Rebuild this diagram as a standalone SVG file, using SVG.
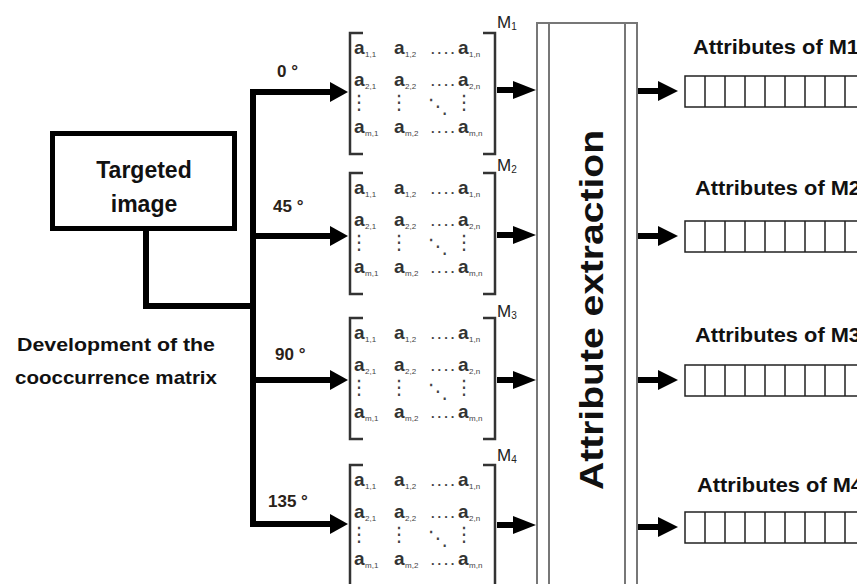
<svg xmlns="http://www.w3.org/2000/svg" xmlns:xlink="http://www.w3.org/1999/xlink" width="857" height="584" viewBox="0 0 857 584">
<style>
text{font-family:"Liberation Sans",Arial,sans-serif}
.lbl{font-weight:bold;fill:#111}
.ang{font-weight:bold;font-size:17px;fill:#2a2218}
.a{font-weight:bold;font-size:19px;fill:#333}
.s{font-size:8px;fill:#444}
.dd{font-weight:bold;font-size:13px;fill:#444;letter-spacing:3px}
.vd{font-family:"DejaVu Sans",sans-serif;font-size:20px;fill:#444;text-anchor:middle}
.m{font-size:17px;fill:#222}
.ms{font-size:10px;fill:#222}
.br{fill:none;stroke:#333;stroke-width:2.5}
.bus{fill:none;stroke:#000;stroke-width:6;stroke-linejoin:miter;stroke-linecap:square}
.shaft{fill:none;stroke:#000;stroke-width:6}
.head{fill:#000}
.gr{fill:none;stroke:#777;stroke-width:2}
.cell{fill:none;stroke:#222;stroke-width:1.5}
</style>
<defs>
<g id="matrix">
<path class="br" d="M363 0 H350 V121 H363"/>
<path class="br" d="M483 0 H495 V121 H483"/>
<text class="a" x="354" y="21">a</text><text class="s" x="365" y="24">1,1</text>
<text class="a" x="394" y="21">a</text><text class="s" x="405" y="24">1,2</text>
<text class="dd" x="431" y="21">....</text>
<text class="a" x="458" y="21">a</text><text class="s" x="469" y="24">1,n</text>
<text class="a" x="354" y="53">a</text><text class="s" x="365" y="56">2,1</text>
<text class="a" x="394" y="53">a</text><text class="s" x="405" y="56">2,2</text>
<text class="dd" x="431" y="53">....</text>
<text class="a" x="458" y="53">a</text><text class="s" x="469" y="56">2,n</text>
<text class="vd" x="359" y="76">⋮</text>
<text class="vd" x="399" y="76">⋮</text>
<text class="vd" x="438" y="80">⋱</text>
<text class="vd" x="464" y="76">⋮</text>
<text class="a" x="354" y="100">a</text><text class="s" x="365" y="103">m,1</text>
<text class="a" x="394" y="100">a</text><text class="s" x="405" y="103">m,2</text>
<text class="dd" x="431" y="100">....</text>
<text class="a" x="458" y="100">a</text><text class="s" x="469" y="103">m,n</text>
</g>
<g id="cells">
<rect class="cell" x="685" y="0" width="180" height="31"/>
<path class="cell" d="M705 0V31M725 0V31M745 0V31M765 0V31M785 0V31M805 0V31M825 0V31M845 0V31"/>
</g>
</defs>

<g id="connectors">
<path class="bus" d="M146 233 V306 H253"/>
<path class="bus" d="M332 92 H253 V524 H332"/>
<path class="shaft" d="M253 236 H332 M253 380 H332"/>
<polygon class="head" points="330,82 348,92 330,102"/>
<polygon class="head" points="330,226 348,236 330,246"/>
<polygon class="head" points="330,370 348,380 330,390"/>
<polygon class="head" points="330,514 348,524 330,534"/>
<path class="shaft" d="M497 90 H516 M497 235 H516 M497 380 H516 M497 525 H516"/>
<polygon class="head" points="513,81 536,90 513,99"/>
<polygon class="head" points="513,226 536,235 513,244"/>
<polygon class="head" points="513,371 536,380 513,389"/>
<polygon class="head" points="513,516 536,525 513,534"/>
<path class="shaft" d="M638 91 H660 M638 236 H660 M638 380 H660 M638 527 H660"/>
<polygon class="head" points="658,81 678,91 658,101"/>
<polygon class="head" points="658,226 678,236 658,246"/>
<polygon class="head" points="658,370 678,380 658,390"/>
<polygon class="head" points="658,517 678,527 658,537"/>
<text class="ang" x="277" y="77">0 °</text>
<text class="ang" x="273" y="212">45 °</text>
<text class="ang" x="275" y="360">90 °</text>
<text class="ang" x="268" y="507">135 °</text>
</g>

<g id="targeted-image">
<rect x="52.5" y="133.5" width="182" height="95" fill="#fff" stroke="#000" stroke-width="5"/>
<text class="lbl" x="144" y="178" font-size="23" text-anchor="middle">Targeted</text>
<text class="lbl" x="144" y="212" font-size="23" text-anchor="middle">image</text>
</g>

<g id="development-label">
<text class="lbl" x="116" y="351" font-size="19" text-anchor="middle" textLength="198" lengthAdjust="spacingAndGlyphs">Development of the</text>
<text class="lbl" x="116" y="384" font-size="19" text-anchor="middle" textLength="202" lengthAdjust="spacingAndGlyphs">cooccurrence matrix</text>
</g>

<g id="matrix-m1"><use xlink:href="#matrix" y="33"/><text class="m" x="497" y="28">M<tspan class="ms" dy="2">1</tspan></text></g>
<g id="matrix-m2"><use xlink:href="#matrix" y="173"/><text class="m" x="497" y="171">M<tspan class="ms" dy="2">2</tspan></text></g>
<g id="matrix-m3"><use xlink:href="#matrix" y="318"/><text class="m" x="497" y="317">M<tspan class="ms" dy="2">3</tspan></text></g>
<g id="matrix-m4"><use xlink:href="#matrix" y="465"/><text class="m" x="497" y="461">M<tspan class="ms" dy="2">4</tspan></text></g>

<g id="attribute-extraction">
<path class="gr" d="M537 590 V23 H637 V590"/>
<path class="gr" d="M549 23 V590 M625 23 V590"/>
<text class="lbl" transform="translate(603,310) rotate(-90)" x="0" y="0" font-size="34" text-anchor="middle" textLength="360" lengthAdjust="spacingAndGlyphs">Attribute extraction</text>
</g>

<g id="attributes-m1">
<text class="lbl" x="693" y="54" font-size="20" textLength="166" lengthAdjust="spacingAndGlyphs">Attributes of M1</text>
<use xlink:href="#cells" y="76"/>
</g>
<g id="attributes-m2">
<text class="lbl" x="695" y="195" font-size="20" textLength="166" lengthAdjust="spacingAndGlyphs">Attributes of M2</text>
<use xlink:href="#cells" y="221"/>
</g>
<g id="attributes-m3">
<text class="lbl" x="695" y="342" font-size="20" textLength="166" lengthAdjust="spacingAndGlyphs">Attributes of M3</text>
<use xlink:href="#cells" y="365"/>
</g>
<g id="attributes-m4">
<text class="lbl" x="697" y="492" font-size="20" textLength="166" lengthAdjust="spacingAndGlyphs">Attributes of M4</text>
<use xlink:href="#cells" y="512"/>
</g>
</svg>
